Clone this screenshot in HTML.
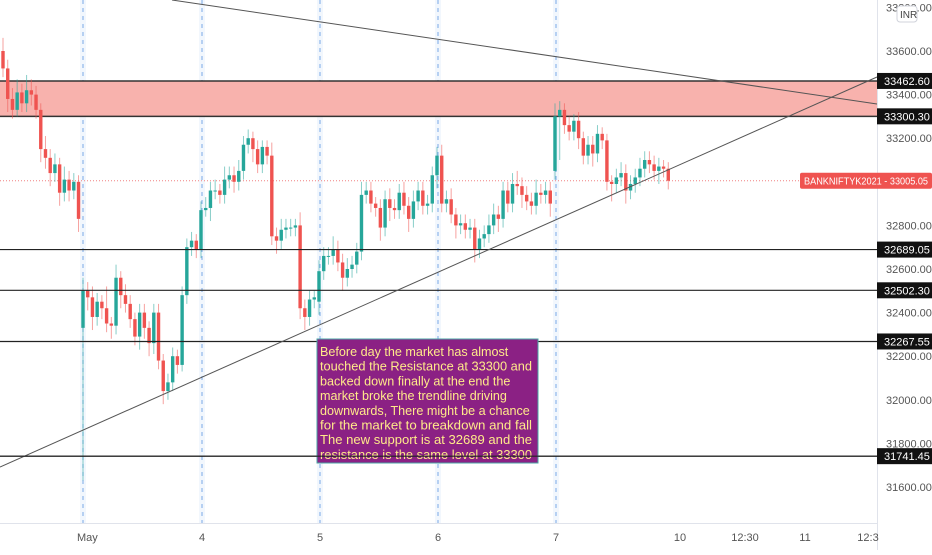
<!DOCTYPE html>
<html><head><meta charset="utf-8">
<style>
html,body{margin:0;padding:0;background:#fff;}
body{width:932px;height:550px;overflow:hidden;font-family:"Liberation Sans",sans-serif;}
svg text{font-family:"Liberation Sans",sans-serif;}
</style></head>
<body>
<svg id="chart" width="932" height="550" viewBox="0 0 932 550" xmlns="http://www.w3.org/2000/svg">
<rect x="0" y="0" width="932" height="550" fill="#ffffff"/>
<g id="grid"></g>
<g id="zones"></g>
<g id="candles"></g>
<g id="lines"></g>
<g id="axis"></g>
<g id="xaxis"></g>
</svg>
<script>
const closes = [
33520,33380,33330,33410,33360,33420,33400,33330,33150,33110,33040,33080,32950,33010,32960,33000,32830,
32500,32470,32380,32450,32420,32350,32340,32560,32480,32440,32370,32290,32400,32330,32260,32400,32180,32040,32080,32200,32160,32480,32700,32730,32690,
32870,32880,32960,32960,32940,33010,33030,33000,33050,33170,33200,33150,33080,33160,33120,32750,32730,32780,32790,32790,32800,32420,32380,32460,32470,
32590,32660,32660,32690,32630,32560,32600,32620,32680,32940,32960,32900,32880,32790,32920,32880,32870,32950,32890,32830,32910,32960,32890,32900,33030,
33120,32900,32920,32850,32800,32810,32780,32790,32690,32740,32760,32800,32850,32830,32960,32900,32990,32980,32940,32910,32890,32950,32940,32960,32900,
33300,33330,33260,33230,33280,33200,33120,33170,33130,33220,33190,33000,32990,33020,33040,32960,32990,33020,33060,33100,33080,33050,33070,33060,33005
];
const firstOpen = 33600;
const gapOpenIdx = [17,67,117];
const gapOpenVal = [32330,32450,33050];
const wickUp = [60,40,50,60,40,70,50,40,30,60,40,50,30,60,40,40,30,
 60,40,50,40,30,100,30,60,30,50,40,30,40,40,30,40,40,30,40,40,30,40,40,40,30,
 40,50,40,50,30,60,40,40,50,40,40,30,40,30,30,60,40,50,40,40,30,60,40,40,30,
 50,40,40,60,40,40,50,40,40,60,40,40,30,40,40,50,40,40,50,40,50,40,40,40,40,
 40,50,40,50,30,40,40,40,40,40,40,50,50,40,40,40,50,60,40,40,40,60,40,40,40,
 60,40,30,40,30,40,30,40,40,40,30,30,30,40,50,40,40,40,50,40,40,40,40,30,30];
const wickDn = [40,60,40,30,40,40,50,40,60,50,60,40,60,40,50,40,60,
 700,60,60,40,50,40,60,40,60,40,40,40,60,50,60,50,40,60,40,40,40,30,40,40,40,
 40,30,60,40,40,40,40,50,40,40,40,60,40,40,40,40,60,40,40,40,40,50,60,40,40,
 60,40,40,40,40,60,40,40,40,40,40,40,40,60,40,60,40,40,40,60,40,40,40,40,40,
 60,40,40,40,60,40,40,40,60,40,40,40,40,60,40,40,40,40,60,40,40,40,40,40,60,
 40,200,40,40,40,50,40,40,60,40,40,40,80,40,40,60,40,40,40,40,40,40,60,40,40];
const priceTicks = [33800,33600,33400,33200,32800,32600,32400,32200,32000,31800,31600];
const levels = [32689.05,32502.30,32267.55,31741.45];
const zoneLow = 33300.30, zoneHigh = 33462.60;
const lastPrice = 33005.05;
const dayLabels = ["May","4","5","6","7","10","12:30","11","12:3"];
const dayLabelX = [83,202,320,438,556,680,745,805,868];
const separators = [83,202,320,438,556];

const NS="http://www.w3.org/2000/svg";
function y(p){return 487-(p-31600)*0.218;}
function xi(i){return 3+(i-0)*4.72+(i>=17?(83-(3+17*4.72)):0);}
function mk(tag,attrs,parent){const e=document.createElementNS(NS,tag);for(const k in attrs)e.setAttribute(k,attrs[k]);parent.appendChild(e);return e;}
const G=id=>document.getElementById(id);

separators.forEach((sx,k)=>{
  const b=mk('rect',{x:sx-3,y:0,width:6,height:523,fill:'#f2f7fd'},G('grid'));
  
  
  const l=mk('line',{x1:sx,y1:0,x2:sx,y2:523,stroke:'#7aa8e8','stroke-width':1,'stroke-dasharray':'4,4'},G('grid'));
  
  
});

const z=mk('rect',{x:0,y:y(zoneHigh),width:877,height:y(zoneLow)-y(zoneHigh),fill:'#f8b2ad'},G('zones'));


[zoneHigh,zoneLow].forEach(p=>{
  const l=mk('line',{x1:0,x2:877,y1:y(p),y2:y(p),stroke:'#333','stroke-width':1.5},G('zones'));
  
  
});
const lp=mk('line',{x1:0,x2:877,y1:y(lastPrice),y2:y(lastPrice),stroke:'#f08080','stroke-width':1,'stroke-dasharray':'1,2'},G('zones'));



let prev=firstOpen;
closes.forEach((c,i)=>{
  const gi=gapOpenIdx.indexOf(i);
  const o=gi>=0?gapOpenVal[gi]:prev; prev=c;
  const up=c>=o, col=up?'#26a69a':'#ef5350';
  const hi=Math.max(o,c)+wickUp[i], lo=Math.min(o,c)-wickDn[i];
  const cx=xi(i);
  const g=mk('g',{},G('candles'));
  
  
  mk('line',{x1:cx,x2:cx,y1:y(hi),y2:y(lo),stroke:col,'stroke-opacity':0.55,'stroke-width':1},g);
  const t=y(Math.max(o,c)), bt=y(Math.min(o,c));
  mk('rect',{x:cx-1.7,y:t,width:3.4,height:Math.max(1,bt-t),fill:col},g);
});

levels.forEach(p=>{
  const l=mk('line',{x1:0,x2:877,y1:y(p),y2:y(p),stroke:'#222','stroke-width':1.2},G('lines'));
  
  
});
let t1=mk('line',{x1:0,y1:467,x2:877,y2:77,stroke:'#555','stroke-width':1},G('lines'));


let t2=mk('line',{x1:172,y1:0,x2:877,y2:104,stroke:'#555','stroke-width':1},G('lines'));



const note=mk('g',{},G('lines'));


const cp=mk('clipPath',{id:'nc'},note);
mk('rect',{x:317,y:339,width:221,height:124},cp);
mk('rect',{x:317,y:339,width:221,height:124,fill:'#8b2184',stroke:'#4aa5a5','stroke-width':1},note);
const noteLines=["Before day the market has almost","touched the Resistance at 33300 and","backed down finally at the end the","market broke the trendline driving","downwards, There might be a chance","for the market to breakdown and fall","The new support is at 32689 and the","resistance is the same level at 33300"];
const tg=mk('g',{'clip-path':'url(#nc)'},note);
noteLines.forEach((s,k)=>{const t=mk('text',{x:320,y:356+k*14.7,fill:'#ffe98a','font-size':12.6},tg);if(s.length>34){t.setAttribute('textLength',212);t.setAttribute('lengthAdjust','spacingAndGlyphs');}t.textContent=s;});
const bl=mk('line',{x1:0,x2:877,y1:y(31741.45),y2:y(31741.45),stroke:'#222','stroke-width':1.2},G('lines'));



const ax=G('axis');
mk('rect',{x:877,y:0,width:55,height:550,fill:'#fff'},ax);
mk('line',{x1:877.5,x2:877.5,y1:0,y2:550,stroke:'#e0e3eb'},ax);
priceTicks.forEach(p=>{const t=mk('text',{x:886,y:y(p)+4,'font-size':11,fill:'#555'},ax);t.textContent=p.toFixed(2);});
[zoneHigh,zoneLow].concat(levels).forEach(p=>{
  const g=mk('g',{},ax);
  
  
  mk('rect',{x:877,y:y(p)-8,width:55,height:16,fill:'#111'},g);
  const t=mk('text',{x:884,y:y(p)+4,'font-size':11,fill:'#fff'},g);t.textContent=p.toFixed(2);
});
const pt=mk('g',{},ax);


mk('rect',{x:800,y:y(lastPrice)-8,width:132,height:16,fill:'#ef5350',rx:2},pt);
const ptt=mk('text',{x:804,y:y(lastPrice)+4,'font-size':10.5,fill:'#fff',textLength:124,lengthAdjust:'spacingAndGlyphs'},pt);ptt.textContent="BANKNIFTYK2021 - "+lastPrice.toFixed(2);
const inr=mk('g',{},ax);


mk('rect',{x:897,y:6,width:20,height:16,rx:3,fill:'#fff',stroke:'#d0d3db'},inr);
const it=mk('text',{x:900,y:18,'font-size':10,fill:'#444'},inr);it.textContent="INR";

const xa=G('xaxis');
mk('rect',{x:0,y:523,width:877,height:27,fill:'#fff'},xa);
mk('line',{x1:0,x2:877,y1:523.5,y2:523.5,stroke:'#e0e3eb'},xa);
dayLabels.forEach((s,k)=>{const t=mk('text',{x:dayLabelX[k],y:541,'font-size':11,fill:'#555','text-anchor':k==0?'start':'middle'},xa);if(k==0)t.setAttribute('x',dayLabelX[k]-6);t.textContent=s;});
</script>
</body></html>
